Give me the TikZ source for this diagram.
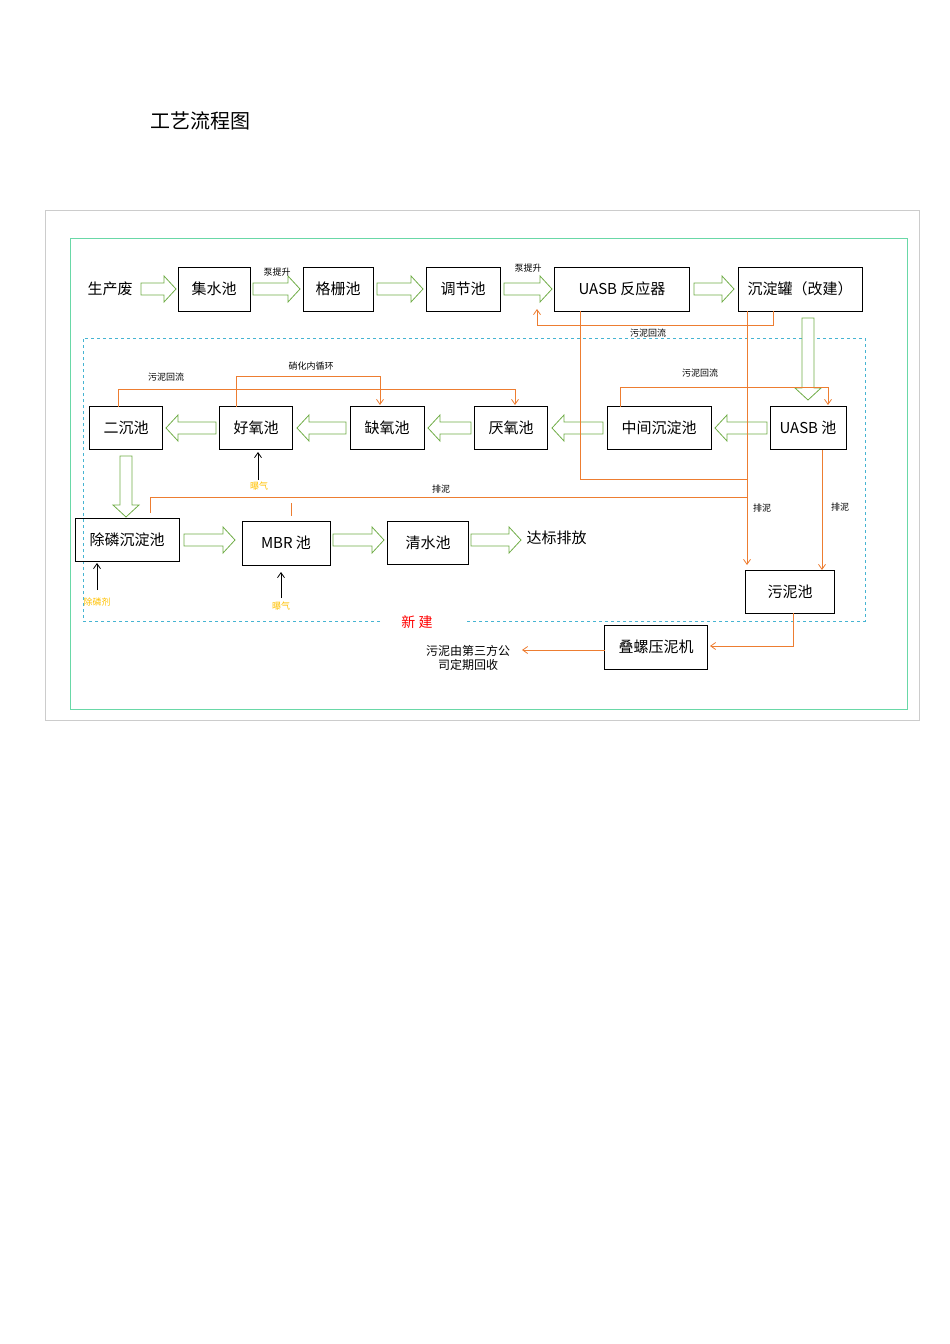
\documentclass[tikz,border=0pt]{standalone}
\usepackage{fontspec}
\setmainfont{Noto Sans CJK SC}
\usetikzlibrary{arrows.meta}
\definecolor{gr}{RGB}{112,173,71}
\definecolor{org}{RGB}{237,125,49}
\definecolor{cy}{RGB}{70,180,210}
\definecolor{ye}{RGB}{255,192,0}
\tikzset{box/.style={draw,thick,inner sep=0,font=\fontsize{15}{15}\selectfont},
 ol/.style={draw=org,thick,-{Straight Barb[length=5pt,width=7pt]}},
 lab/.style={font=\fontsize{9}{9}\selectfont},
 ylab/.style={font=\fontsize{9}{9}\selectfont,text=ye},
 bl/.style={thick,-{Straight Barb[length=5pt,width=7pt]}},
 ha/.style={draw=gr,thick,fill=white}}
% horizontal hollow arrow: x1 (tail) x2 (tip) y
\newcommand\HA[3]{\pgfmathsetmacro\hd{(#2>#1)?12:-12}
 \draw[ha] (#1,#3-6) -- (#2-\hd,#3-6) -- (#2-\hd,#3-13) -- (#2,#3) -- (#2-\hd,#3+13) -- (#2-\hd,#3+6) -- (#1,#3+6) -- cycle;}
\newcommand\VA[3]{\draw[ha] (#1-6,#2) -- (#1-6,#3-12) -- (#1-13,#3-12) -- (#1,#3) -- (#1+13,#3-12) -- (#1+6,#3-12) -- (#1+6,#2) -- cycle;}
\begin{document}
\begin{tikzpicture}[x=1pt,y=-1pt]
\useasboundingbox (0,0) rectangle (950,1344);
\node[font=\fontsize{20}{20}\selectfont] (title) at (200,121) {工艺流程图};
\draw[black!20] (45,210) rectangle (919,720);
\draw[gr!60!cyan!80,thick] (70,238) rectangle (907,709);
\draw[cy,dashed,thick] (380,621) -- (83,621) -- (83,338) -- (865,338) -- (865,621) -- (465,621);
\node[text=red,font=\fontsize{14}{14}\selectfont] (xj) at (417,622) {新\ 建};
% top row
\node[font=\fontsize{15}{15}\selectfont] (src) at (110,289) {生产废};
\node[box,minimum width=72,minimum height=44] (jsc) at (214,289) {集水池};
\node[box,minimum width=70,minimum height=44] (gsc) at (338,289) {格栅池};
\node[box,minimum width=74,minimum height=44] (tjc) at (463,289) {调节池};
\node[box,minimum width=135,minimum height=44] (uasbr) at (622,289) {UASB 反应器};
\node[box,minimum width=124,minimum height=44] (cdg) at (800,289) {沉淀罐（改建）};
\HA{141}{176}{289}\HA{253}{300}{289}\HA{377}{423}{289}\HA{504}{552}{289}\HA{694}{734}{289}
\node[lab] (t1) at (277,272) {泵提升};
\node[lab] (t2) at (528,268) {泵提升};
% middle row
\node[box,minimum width=73,minimum height=43] (ecc) at (126,428) {二沉池};
\node[box,minimum width=73,minimum height=43] (hyc) at (256,428) {好氧池};
\node[box,minimum width=74,minimum height=43] (qyc) at (387,428) {缺氧池};
\node[box,minimum width=73,minimum height=43] (yyc) at (511,428) {厌氧池};
\node[box,minimum width=104,minimum height=43] (zjc) at (659,428) {中间沉淀池};
\node[box,minimum width=76,minimum height=43] (uasbc) at (808,428) {UASB 池};
\HA{216}{166}{428}\HA{346}{297}{428}\HA{471}{428}{428}\HA{603}{552}{428}\HA{767}{715}{428}
\VA{808}{318}{400}
\VA{126}{456}{517}
% bottom row
\node[box,minimum width=104,minimum height=43] (clc) at (127,540) {除磷沉淀池};
\node[box,minimum width=88,minimum height=44] (mbr) at (286,543) {MBR 池};
\node[box,minimum width=81,minimum height=43] (qsc) at (428,543) {清水池};
\node[font=\fontsize{15}{15}\selectfont,anchor=west] (db) at (523,538) {达标排放};
\HA{184}{235}{540}\HA{333}{384}{540}\HA{471}{521}{540}
\node[box,minimum width=89,minimum height=43] (wnc) at (790,592) {污泥池};
\node[box,minimum width=103,minimum height=44] (dlj) at (656,647) {叠螺压泥机};
\node[align=center,font=\fontsize{12}{14}\selectfont] (hs) at (468,658) {污泥由第三方公\\司定期回收};
% orange lines
\draw[ol] (773,311) -- (773,325) -- (537,325) -- (537,309);
\node[lab] (l1) at (648,333) {污泥回流};
\draw[org,thick] (580,311) -- (580,479) -- (747,479);
\draw[ol] (747,311) -- (747,565);
\draw[ol] (822,450) -- (822,570);
\draw[org,thick] (747,497) -- (150,497) -- (150,513);
\draw[org,thick] (291,503) -- (291,516);
\node[lab] (l2) at (441,489) {排泥};
\node[lab] (l3) at (762,508) {排泥};
\node[lab] (l4) at (840,507) {排泥};
\draw[ol] (118,407) -- (118,389) -- (515,389) -- (515,405);
\node[lab] (l5) at (166,377) {污泥回流};
\draw[ol] (236,407) -- (236,376) -- (380,376) -- (380,405);
\node[lab] (l6) at (311,366) {硝化内循环};
\draw[ol] (620,407) -- (620,387) -- (828,387) -- (828,405);
\node[lab] (l7) at (700,373) {污泥回流};
\draw[ol] (793,613) -- (793,646) -- (710,646);
\draw[ol] (605,650) -- (522,650);
% black arrows
\draw[bl] (258,480) -- (258,452);
\node[ylab] (y1) at (259,486) {曝气};
\draw[bl] (97,590) -- (97,563);
\node[ylab] (y2) at (97,602) {除磷剂};
\draw[bl] (281,598) -- (281,572);
\node[ylab] (y3) at (281,606) {曝气};
\end{tikzpicture}
\end{document}
